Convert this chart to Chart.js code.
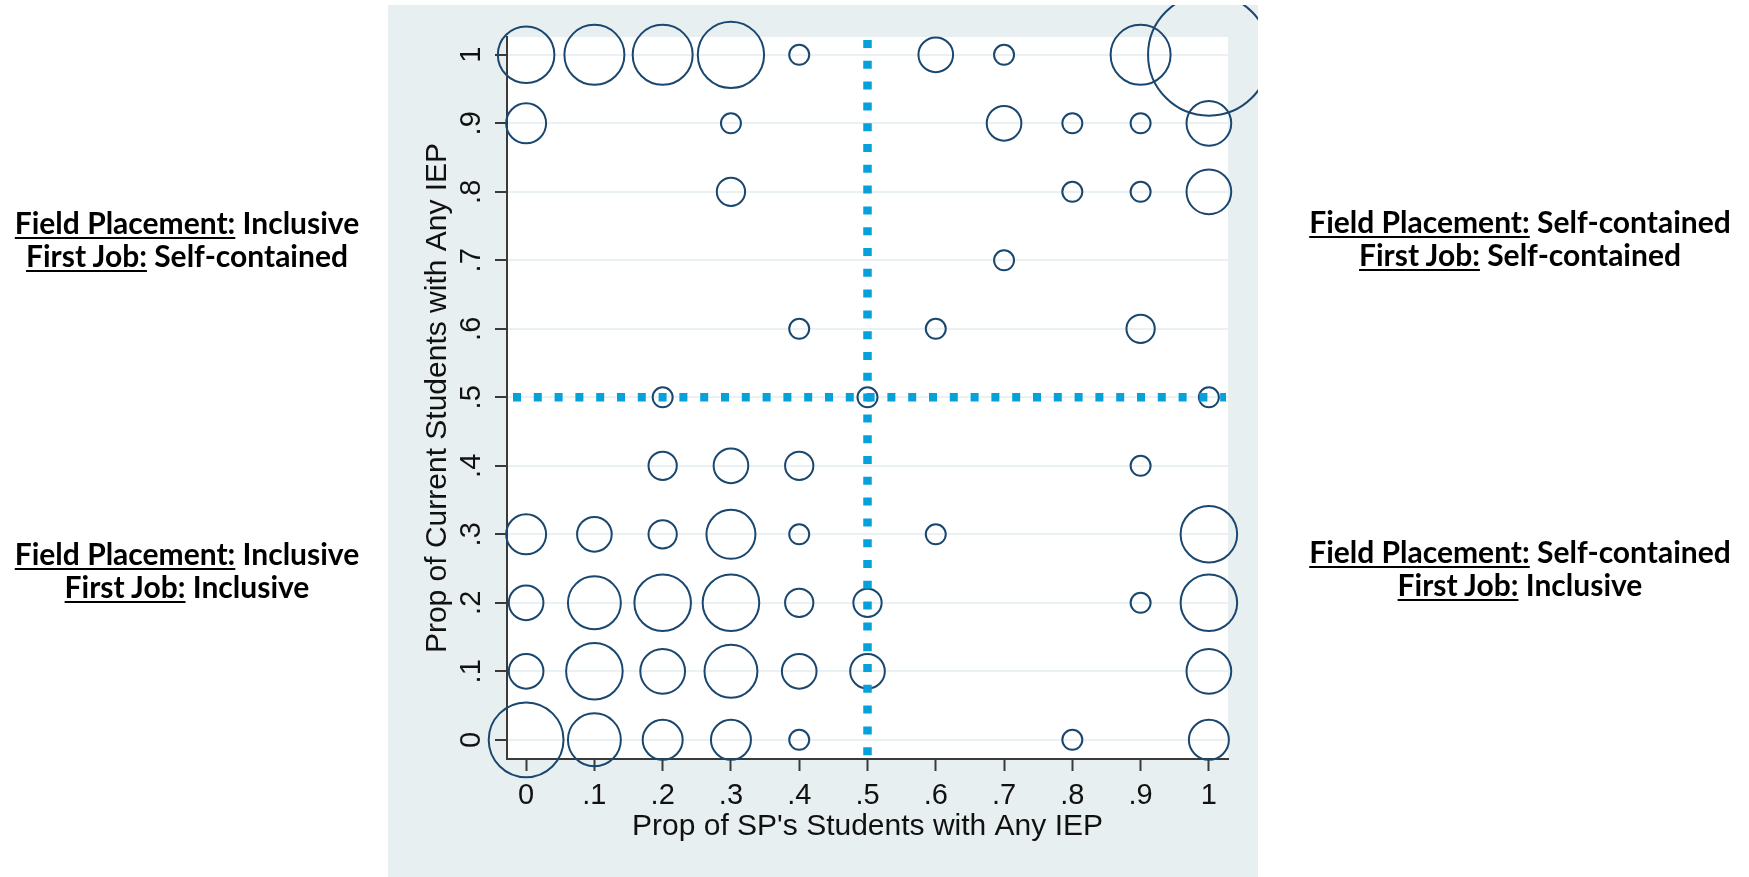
<!DOCTYPE html>
<html>
<head>
<meta charset="utf-8">
<script src="https://cdn.jsdelivr.net/npm/chart.js@4.4.1/dist/chart.umd.min.js"></script>
<style>
  html, body { margin: 0; padding: 0; background: #fff; }
  #wrap { position: relative; width: 1749px; height: 877px; overflow: hidden; }
  #chart { position: absolute; left: 0; top: 0; }
  .note {
    position: absolute; width: 500px; text-align: center; white-space: nowrap;
    font-family: Lato, "Open Sans", sans-serif; font-weight: bold;
    font-size: 30px; line-height: 33px; color: #000;
  }
  .note u { text-decoration-thickness: 2px; text-underline-offset: 3px; }
</style>
</head>
<body>
<div id="wrap">
  <canvas id="chart" width="1749" height="877"></canvas>
  <div class="note" style="left:-63px; top:206px;"><u>Field Placement:</u> Inclusive<br><u>First Job:</u> Self-contained</div>
  <div class="note" style="left:1270px; top:205px;"><u>Field Placement:</u> Self-contained<br><u>First Job:</u> Self-contained</div>
  <div class="note" style="left:-63px; top:537px;"><u>Field Placement:</u> Inclusive<br><u>First Job:</u> Inclusive</div>
  <div class="note" style="left:1270px; top:535px;"><u>Field Placement:</u> Self-contained<br><u>First Job:</u> Inclusive</div>
</div>
<script>
// axis ticks (same for both axes)
const tickValues = [0, 0.1, 0.2, 0.3, 0.4, 0.5, 0.6, 0.7, 0.8, 0.9, 1];
const tickLabels = ['0', '.1', '.2', '.3', '.4', '.5', '.6', '.7', '.8', '.9', '1'];

// bubbles: x, y and number of teachers in each cell
const bubbleX = [
  0, 0.1, 0.2, 0.3, 0.4, 0.6, 0.7, 0.9, 1,
  0, 0.3, 0.7, 0.8, 0.9, 1,
  0.3, 0.8, 0.9, 1,
  0.7,
  0.4, 0.6, 0.9,
  0.2, 0.5, 1,
  0.2, 0.3, 0.4, 0.9,
  0, 0.1, 0.2, 0.3, 0.4, 0.6, 1,
  0, 0.1, 0.2, 0.3, 0.4, 0.5, 0.9, 1,
  0, 0.1, 0.2, 0.3, 0.4, 0.5, 1,
  0, 0.1, 0.2, 0.3, 0.4, 0.8, 1
];
const bubbleY = [
  1, 1, 1, 1, 1, 1, 1, 1, 1,
  0.9, 0.9, 0.9, 0.9, 0.9, 0.9,
  0.8, 0.8, 0.8, 0.8,
  0.7,
  0.6, 0.6, 0.6,
  0.5, 0.5, 0.5,
  0.4, 0.4, 0.4, 0.4,
  0.3, 0.3, 0.3, 0.3, 0.3, 0.3, 0.3,
  0.2, 0.2, 0.2, 0.2, 0.2, 0.2, 0.2, 0.2,
  0.1, 0.1, 0.1, 0.1, 0.1, 0.1, 0.1,
  0, 0, 0, 0, 0, 0, 0
];
const bubbleCount = [
  8, 9, 9, 11, 1, 3, 1, 9, 37,
  4, 1, 3, 1, 1, 5,
  2, 1, 1, 5,
  1,
  1, 1, 2,
  1, 1, 1,
  2, 3, 2, 1,
  4, 3, 2, 6, 1, 1, 8,
  3, 7, 8, 8, 2, 2, 1, 8,
  3, 8, 5, 7, 3, 3, 5,
  14, 7, 4, 4, 1, 1, 4
];

// quadrant split
const splitX = 0.5;
const splitY = 0.5;

const xTitle = "Prop of SP's Students with Any IEP";
const yTitle = 'Prop of Current Students with Any IEP';

const NAVY = '#1a476f';
const AXIS = '#3a3a3a';
const TEXT = '#111';
const tickFont = { family: '"Liberation Sans", Arial, sans-serif', size: 29 };
const titleFont = { family: '"Liberation Sans", Arial, sans-serif', size: 30 };

const points = bubbleX.map((x, i) => ({
  x: x,
  y: bubbleY[i],
  r: 10 * Math.sqrt(bubbleCount[i])
}));

const panelPlugin = {
  id: 'panel',
  beforeDraw(chart) {
    const { ctx, chartArea: a } = chart;
    ctx.save();
    ctx.fillStyle = '#e8eff1';
    ctx.fillRect(388, 5, 870, 872);
    ctx.fillStyle = '#ffffff';
    ctx.fillRect(a.left, a.top, a.right - a.left, a.bottom - a.top);
    ctx.restore();
  }
};

const splitPlugin = {
  id: 'split',
  afterDatasetsDraw(chart) {
    const { ctx, chartArea: a, scales } = chart;
    const px = scales.x.getPixelForValue(splitX);
    const py = scales.y.getPixelForValue(splitY);
    ctx.save();
    ctx.strokeStyle = '#06a0da';
    ctx.lineWidth = 8.5;
    ctx.setLineDash([8, 12.8]);
    ctx.beginPath();
    ctx.moveTo(px, a.top + 3);
    ctx.lineTo(px, a.bottom);
    ctx.stroke();
    ctx.beginPath();
    ctx.moveTo(a.left + 6, py);
    ctx.lineTo(a.right - 2, py);
    ctx.stroke();
    ctx.restore();
  }
};

new Chart(document.getElementById('chart'), {
  type: 'bubble',
  data: {
    datasets: [{
      data: points,
      borderColor: NAVY,
      backgroundColor: 'rgba(0,0,0,0)',
      borderWidth: 2,
      hoverRadius: 0,
      // let bubbles spill over the axes but stop at the grey panel edge
      clip: { left: 119, top: 32, right: 30, bottom: 118 }
    }]
  },
  options: {
    responsive: false,
    animation: false,
    events: [],
    layout: { autoPadding: false, padding: { left: 388, right: 521, top: 37, bottom: 0 } },
    plugins: {
      legend: { display: false },
      tooltip: { enabled: false }
    },
    scales: {
      x: {
        type: 'linear',
        min: -0.028,
        max: 1.028,
        afterBuildTicks: s => { s.ticks = tickValues.map(v => ({ value: v })); },
        afterFit: s => { s.height = 118; },
        grid: { drawOnChartArea: false, drawTicks: true, tickLength: 12, tickColor: AXIS, tickWidth: 2 },
        border: { color: AXIS, width: 2 },
        ticks: {
          font: tickFont, color: TEXT, padding: 8, minRotation: 0, maxRotation: 0,
          callback: (v, i) => tickLabels[i]
        },
        title: {
          display: true, text: xTitle, font: titleFont, color: TEXT,
          padding: { top: 0, bottom: 32 }
        }
      },
      y: {
        type: 'linear',
        min: -0.028,
        max: 1.026,
        afterBuildTicks: s => { s.ticks = tickValues.map(v => ({ value: v })); },
        afterFit: s => { s.width = 119; },
        grid: { color: '#eaf1f3', lineWidth: 2, drawTicks: true, tickLength: 12, tickColor: AXIS, tickWidth: 2 },
        border: { color: AXIS, width: 2 },
        ticks: {
          font: tickFont, color: TEXT, padding: 11, minRotation: 90, maxRotation: 90,
          crossAlign: 'center',
          callback: (v, i) => tickLabels[i]
        },
        title: {
          display: true, text: yTitle, font: titleFont, color: TEXT,
          padding: { top: 32, bottom: 0 }
        }
      }
    }
  },
  plugins: [panelPlugin, splitPlugin]
});
</script>
</body>
</html>
